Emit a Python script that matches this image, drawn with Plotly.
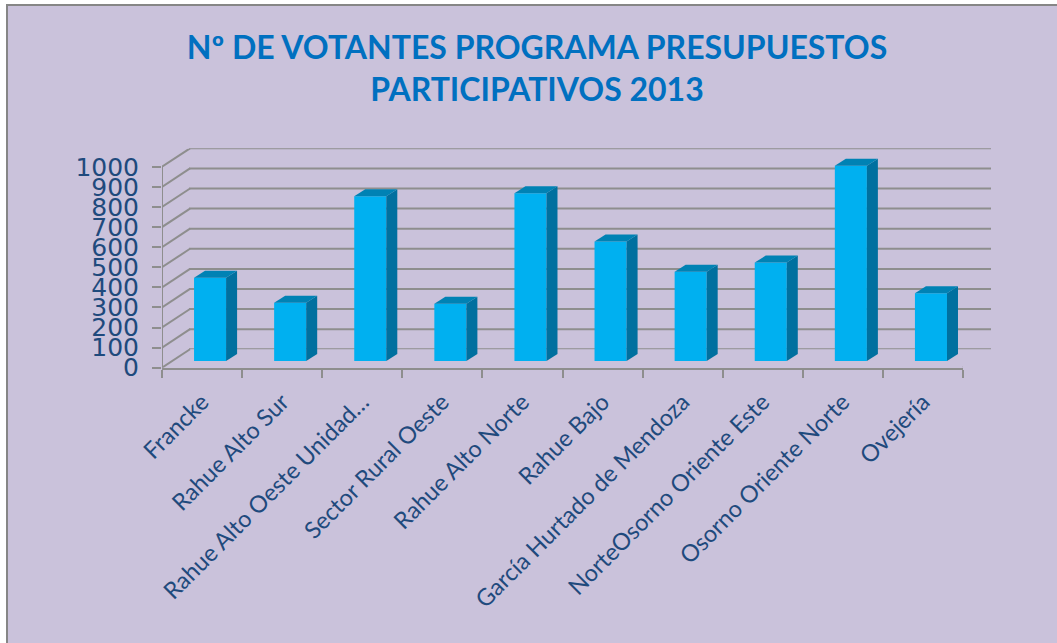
import plotly.graph_objects as go

categories = ["Francke", "Rahue Alto Sur", "Rahue Alto Oeste Unidad…", "Sector Rural Oeste",
              "Rahue Alto Norte", "Rahue Bajo", "García Hurtado de Mendoza",
              "NorteOsorno Oriente Este", "Osorno Oriente Norte", "Ovejería"]
votantes = [415, 290, 820, 285, 835, 595, 445, 490, 972, 337]
y_ticks = list(range(0, 1001, 100))

W, H = 1057, 643
FRONT, SIDE, TOP = "#00B0F0", "#00709F", "#0082B4"
GRID = "#8E8E8E"
TEXT = "#1F4A7D"
FONT = "Lato"

# oblique projection, in axis units (1 category = 80 px, 100 votes = 20 px)
WALL_DX, WALL_DY = 0.35, 92
BAR_DX, BAR_DY = 0.10, 33
BAR_W = 0.40
SIDE_DX, SIDE_DY = 0.1375, 35

fig = go.Figure()

# back wall gridlines: a subplot of its own, drawn below the bars
for v in y_ticks:
    fig.add_trace(go.Scatter(x=[0, 1], y=[v, v], mode="lines", line=dict(color=GRID, width=2),
                             xaxis="x", yaxis="y", hoverinfo="skip", showlegend=False, cliponaxis=False))

# front faces
fig.add_trace(go.Bar(x=[i + BAR_DX for i in range(len(votantes))], y=votantes, base=BAR_DY,
                     width=BAR_W, marker=dict(color=FRONT, line=dict(width=0)),
                     xaxis="x2", yaxis="y2", showlegend=False, cliponaxis=False))

for i, v in enumerate(votantes):
    l = i + BAR_DX - BAR_W / 2
    r = l + BAR_W
    b, t = BAR_DY, BAR_DY + v
    fig.add_trace(go.Scatter(
        x=[r, r + SIDE_DX, r + SIDE_DX, r, r], y=[b, b + SIDE_DY, t + SIDE_DY, t, b],
        mode="lines", fill="toself", fillcolor=SIDE, line=dict(width=0), xaxis="x2", yaxis="y2",
        hoverinfo="skip", showlegend=False, cliponaxis=False))
    fig.add_trace(go.Scatter(
        x=[l, r, r + SIDE_DX, l + SIDE_DX, l], y=[t, t, t + SIDE_DY, t + SIDE_DY, t],
        mode="lines", fill="toself", fillcolor=TOP, line=dict(width=0), xaxis="x2", yaxis="y2",
        hoverinfo="skip", showlegend=False, cliponaxis=False))

# vertical axis line, up to the top tick only
fig.add_trace(go.Scatter(x=[-0.5, -0.5], y=[0, y_ticks[-1]], mode="lines",
                         line=dict(color=GRID, width=2), xaxis="x2", yaxis="y2",
                         hoverinfo="skip", showlegend=False, cliponaxis=False))
# left wall diagonals
for v in y_ticks:
    fig.add_trace(go.Scatter(x=[-0.5, -0.5 + WALL_DX], y=[v, v + WALL_DY], mode="lines",
                             line=dict(color=GRID, width=2), xaxis="x2", yaxis="y2",
                             hoverinfo="skip", showlegend=False, cliponaxis=False))
# right floor edge
fig.add_trace(go.Scatter(x=[9.5, 9.5 + WALL_DX], y=[0, WALL_DY], mode="lines",
                         line=dict(color=GRID, width=2), xaxis="x2", yaxis="y2",
                         hoverinfo="skip", showlegend=False, cliponaxis=False))

# carrier for the category-label axis
fig.add_trace(go.Scatter(x=[0], y=[0], mode="markers", marker=dict(opacity=0), xaxis="x3", yaxis="y2",
                         hoverinfo="skip", showlegend=False))

fig.update_layout(
    template="none",
    width=W, height=H, autosize=False,
    margin=dict(l=0, r=0, t=0, b=0, pad=0),
    paper_bgcolor="white", plot_bgcolor="rgba(0,0,0,0)",
    font=dict(family=FONT, color=TEXT),
    title=dict(text="Nº DE VOTANTES PROGRAMA PRESUPUESTOS<br>PARTICIPATIVOS 2013",
               x=537 / W, xanchor="center", y=1 - 59 / H, yanchor="middle",
               font=dict(family=FONT, size=32, color="#0070C0", weight="bold")),
    shapes=[dict(type="rect", xref="paper", yref="paper", layer="below",
                 x0=7 / W, x1=1.05, y0=-0.05, y1=1 - 5 / H,
                 fillcolor="#CAC2DB", line=dict(color="#868686", width=2))],
    xaxis=dict(domain=[189 / W, 991 / W], range=[0, 1], visible=False, automargin=False),
    yaxis=dict(domain=[1 - 349.3 / H, 1 - 148.3 / H], range=[0, 1000], visible=False, automargin=False),
    xaxis2=dict(domain=[162 / W, 963 / W], range=[-0.5, 9.5], anchor="y2", automargin=False,
                tickvals=[i - 0.5 for i in range(len(categories) + 1)], showticklabels=False,
                ticks="outside", ticklen=8, tickwidth=2, tickcolor=GRID,
                showline=True, linecolor=GRID, linewidth=2, showgrid=False, zeroline=False),
    yaxis2=dict(domain=[1 - 367.7 / H, 1 - 148.7 / H], range=[0, 1090], anchor="x2", automargin=False,
                tickvals=y_ticks, ticks="outside", ticklen=9, tickwidth=2, tickcolor=GRID,
                ticklabelstandoff=8,
                tickfont=dict(family="DejaVu Sans", size=25, color=TEXT),
                showline=False, showgrid=False, zeroline=False),
    xaxis3=dict(overlaying="x2", anchor="y2", range=[-0.5, 9.5], side="bottom", automargin=False,
                tickvals=list(range(len(categories))), ticktext=categories, tickangle=-45,
                ticks="", ticklen=0, ticklabelstandoff=15,
                tickfont=dict(family=FONT, size=23.5, color=TEXT),
                showgrid=False, zeroline=False, showline=False),
)

fig.write_html("out.html", config=dict(displayModeBar=False),
               post_script="document.body.style.margin='0';")
